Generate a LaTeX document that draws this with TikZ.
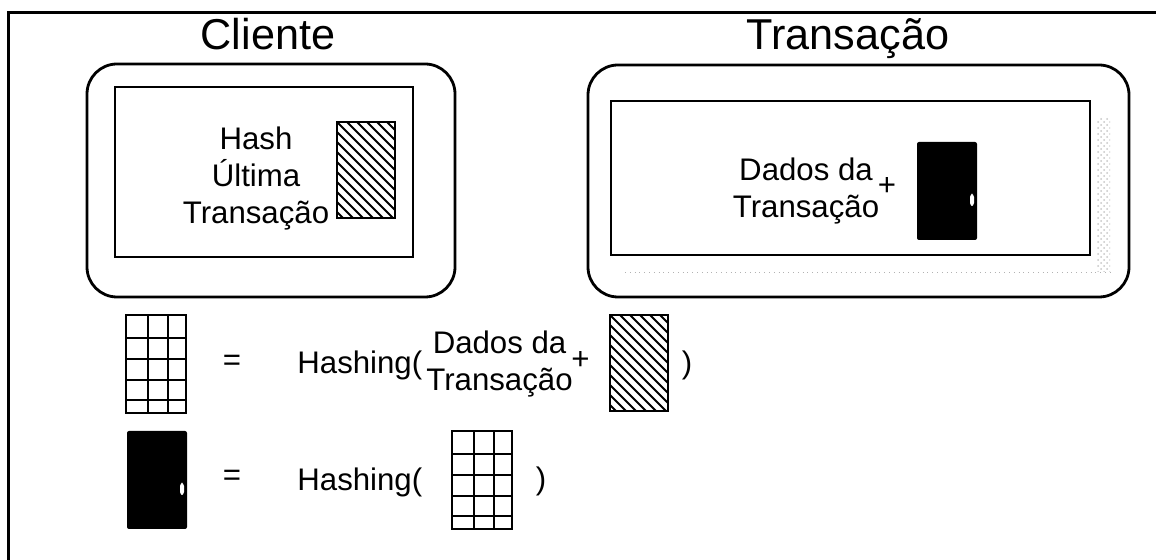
\documentclass[tikz,border=0pt]{standalone}
\usepackage{fontspec}
\setmainfont{Liberation Sans}
\usetikzlibrary{positioning,patterns}

% blocks are 60 x 97, given by their top left corner
\newcommand{\hatchblock}[2]{%
  \begin{scope}[shift={(#1,#2)}]
    \begin{scope}
      \clip (0,0) rectangle (58,96);
      \foreach \d in {-100,-90,...,60} \draw[line width=0.9pt] (\d,0) -- ++(100,100);
    \end{scope}
    \draw[blockline] (0,0) rectangle (58,96);
  \end{scope}}
\newcommand{\gridblock}[2]{%
  \begin{scope}[shift={(#1,#2)}]
    \draw[blockline] (0,0) rectangle (60,98);
    \foreach \gx in {22,42} \draw[gridline] (\gx,0) -- (\gx,98);
    \foreach \gy in {23,44,65,85} \draw[gridline] (0,\gy) -- (60,\gy);
  \end{scope}}
\newcommand{\doorblock}[2]{%
  \begin{scope}[shift={(#1,#2)}]
    \fill[rounded corners=1pt] (0,0) rectangle (60,98);
    \fill[white, rounded corners=1.5pt] (53,52) rectangle (57,64);
  \end{scope}}

\tikzset{
  heading/.style={font=\fontsize{21.6}{26}\selectfont, inner sep=0pt, anchor=base},
  txt/.style={font=\fontsize{15.6}{18.5}\selectfont, align=center, inner sep=0pt},
  frame/.style={line width=1.5pt},
  boxline/.style={line width=1.4pt},
  blockline/.style={line width=1.3pt},
  gridline/.style={line width=1.2pt}
}

\begin{document}
\begin{tikzpicture}[x=0.5pt, y=-0.5pt]
  \useasboundingbox (0,0) rectangle (1156,560);

  % page frame
  \draw[frame] (1156,13) -- (8,13) -- (8,560);

  % client side
  \node[heading] (cliente) at (268,50) {Cliente};
  \draw[boxline, rounded corners=15pt] (87,64) rectangle (455,297);
  \draw[boxline] (115,87) rectangle (413,257);
  \node[txt] (lasthash) at (256,179) {Hash\\Última\\Transação};
  \hatchblock{337}{122}

  % transaction side
  \node[heading] (transacao) at (848,50) {Transação};
  \draw[boxline, rounded corners=15pt] (588,65) rectangle (1129,297);
  \draw[boxline] (611,101) rectangle (1090,255);
  \fill[pattern=crosshatch dots, pattern color=gray!45] (1097,118) rectangle (1110,272);
  \draw[gray!60, dotted] (625,272) -- (1110,272);
  \node[txt] (dados) at (806,191) {Dados da\\Transação};
  \node[txt, right=-1pt of dados, yshift=2pt] (plus) {+};
  \doorblock{917}{142}

  % first rule
  \gridblock{126}{315}
  \node[txt] (eq1) at (232,363) {=};
  \node[txt, anchor=west] (hash1) at (297,365) {Hashing(};
  \node[txt, anchor=west] (dados1) at (426,364) {Dados da\\Transação};
  \node[txt, right=-1pt of dados1, yshift=2pt] (plus1) {+};
  \hatchblock{610}{315}
  \node[txt] (close1) at (687,365) {)};

  % second rule
  \doorblock{127}{431}
  \node[txt] (eq2) at (232,478) {=};
  \node[txt, anchor=west] (hash2) at (297,482) {Hashing(};
  \gridblock{452}{431}
  \node[txt] (close2) at (541,481) {)};
\end{tikzpicture}
\end{document}
